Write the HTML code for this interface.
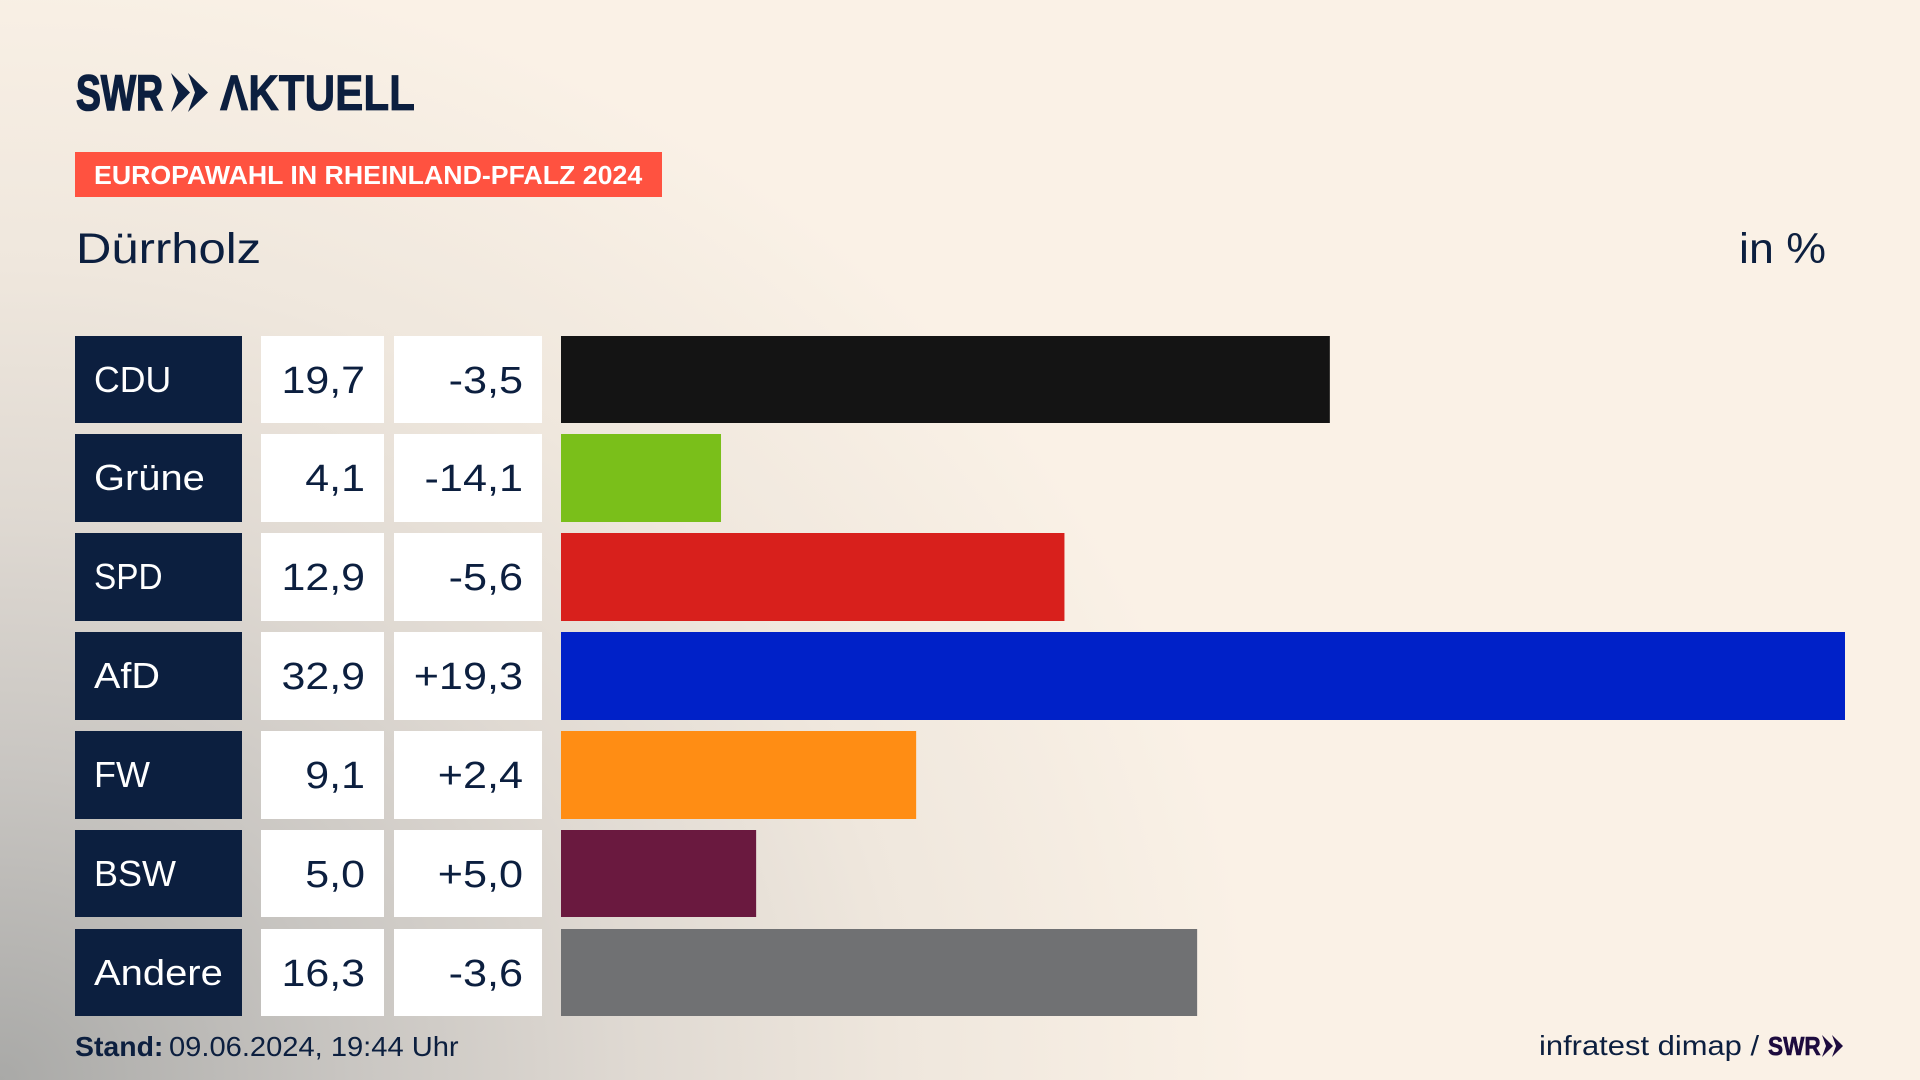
<!DOCTYPE html>
<html lang="de">
<head>
<meta charset="utf-8">
<title>Europawahl in Rheinland-Pfalz 2024 – Dürrholz</title>
<style>
html,body{margin:0;padding:0;width:1920px;height:1080px;overflow:hidden;background:#faf1e6;}
#stage{position:absolute;left:0;top:0;width:1920px;height:1080px;
background:radial-gradient(ellipse 1260px 1130px at 0px 1080px,#a9a9a7 0%,#c9c6c2 28%,#dfd9d2 50%,#efe7dd 72%,#faf1e6 100%);}
svg{position:absolute;left:0;top:0;}
text{font-family:"Liberation Sans",sans-serif;fill:#0c1f3f;}
</style>
</head>
<body>
<div id="stage">
<svg id="chart" width="1920" height="1080" viewBox="0 0 1920 1080" xmlns="http://www.w3.org/2000/svg">
  <g>
    <text transform="translate(76,110) scale(0.746,1)" font-size="50" font-weight="700" stroke="#0c1f3f" stroke-width="1.6">SWR</text>
    <polygon fill="#0c1f3f" points="171,73 190,92.5 171,112 178,92.5"/>
    <polygon fill="#0c1f3f" points="188,73 208,92.5 188,112 195,92.5"/>
    <text transform="translate(220,110) scale(0.846,1)" font-size="50" font-weight="700" stroke="#0c1f3f" stroke-width="0.8">ΛKTUELL</text>
  </g>
  <rect x="75" y="152" width="587" height="45" fill="#ff5240"/>
  <text transform="translate(94,184) scale(1.048,1)" font-size="25.5" font-weight="700" style="fill:#fff">EUROPAWAHL IN RHEINLAND-PFALZ 2024</text>
  <text transform="translate(76,263) scale(1.14,1)" font-size="43">Dürrholz</text>
  <text transform="translate(1826,263) scale(1.04,1)" font-size="43" text-anchor="end">in %</text>
  <g id="rows"></g>
  <g>
    <text transform="translate(75,1056) scale(1.015,1)" font-size="28" font-weight="700">Stand:</text>
    <text transform="translate(169,1056) scale(1.04,1)" font-size="28">09.06.2024, 19:44 Uhr</text>
    <text transform="translate(1539,1055) scale(1.105,1)" font-size="28">infratest dimap /</text>
    <text transform="translate(1768,1055) scale(0.87,1)" font-size="26" font-weight="700" stroke="#1d0b3e" stroke-width="0.6" style="fill:#1d0b3e">SWR</text>
    <polygon fill="#1d0b3e" points="1822,1035 1833,1046 1822,1057 1826,1046"/>
    <polygon fill="#1d0b3e" points="1832,1035 1843,1046 1832,1057 1836,1046"/>
  </g>
</svg>
</div>
<script>
const parties = ["CDU", "Grüne", "SPD", "AfD", "FW", "BSW", "Andere"];
const shares = [19.7, 4.1, 12.9, 32.9, 9.1, 5.0, 16.3];
const changes = [-3.5, -14.1, -5.6, 19.3, 2.4, 5.0, -3.6];
const partyColors = ["#141414", "#7abf1a", "#d8201c", "#0021c8", "#ff8d14", "#6a193f", "#707173"];
const labelStretch = [0.99, 1.108, 0.926, 1.1, 1.0, 1.0, 1.11];

const NS = "http://www.w3.org/2000/svg";
const rowsGroup = document.getElementById("rows");
const barLeft = 561;
const pxPerPoint = 1284 / 32.9;
const rowTop = 336;
const rowPitch = 98.84;
const rowHeight = 87;

function xScale(v) { return v * pxPerPoint; }
function yTop(i) { return Math.floor(rowTop + i * rowPitch); }
function yBottom(i) { return Math.round(rowTop + i * rowPitch + rowHeight + 0.2); }
function fmtShare(v) { return v.toFixed(1).replace(".", ","); }
function fmtChange(v) { return (v > 0 ? "+" : "") + v.toFixed(1).replace(".", ","); }
function make(tag, attrs, parent) {
  const el = document.createElementNS(NS, tag);
  for (const k in attrs) el.setAttribute(k, attrs[k]);
  parent.appendChild(el);
  return el;
}

parties.forEach(function (party, i) {
  const y = yTop(i);
  const h = yBottom(i) - y;
  const key = party.toLowerCase();

  const box = make("rect", { x: 75, y: y, width: 167, height: h, fill: "#0c1f3f" }, rowsGroup);
  
  

  const label = make("text", { transform: "translate(94," + (y + 56) + ") scale(" + labelStretch[i] + ",1)", "font-size": 36, style: "fill:#fff" }, rowsGroup);
  label.textContent = party;
  
  

  const shareBox = make("rect", { x: 261, y: y, width: 123, height: h, fill: "#fff" }, rowsGroup);
  
  

  const shareText = make("text", { transform: "translate(365," + (y + 57) + ") scale(1.13,1)", "font-size": 38, "text-anchor": "end" }, rowsGroup);
  shareText.textContent = fmtShare(shares[i]);
  
  

  const changeBox = make("rect", { x: 394, y: y, width: 148, height: h, fill: "#fff" }, rowsGroup);
  
  

  const changeText = make("text", { transform: "translate(523," + (y + 57) + ") scale(1.137,1)", "font-size": 38, "text-anchor": "end" }, rowsGroup);
  changeText.textContent = fmtChange(changes[i]);
  
  

  const bar = make("rect", { x: barLeft, y: y, width: xScale(shares[i]), height: h, fill: partyColors[i] }, rowsGroup);
  
  
});
</script>
</body>
</html>
